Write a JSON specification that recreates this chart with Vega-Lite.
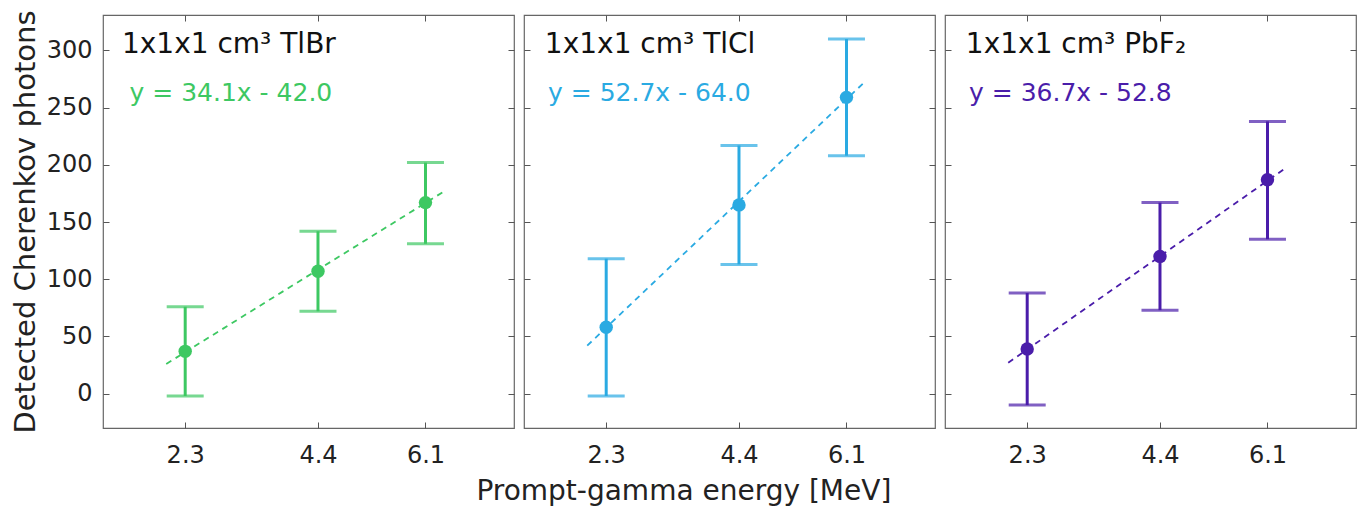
{
  "$schema": "https://vega.github.io/schema/vega-lite/v6.json",
  "autosize": "pad",
  "padding": {"left": 10, "top": 9, "right": 6, "bottom": 5},
  "config": {
    "font": "DejaVu Sans",
    "view": {"stroke": "#666666", "strokeWidth": 1.2},
    "axis": {"grid": false, "domain": false, "tickColor": "#555555", "labelColor": "#222222", "titleColor": "#222222", "labelFont": "DejaVu Sans", "titleFont": "DejaVu Sans", "titleFontWeight": "normal"}
  },
  "spacing": 6,
  "title": {"text": "Prompt-gamma energy [MeV]", "orient": "bottom", "anchor": "middle", "fontSize": 28, "fontWeight": "normal", "font": "DejaVu Sans", "color": "#222222", "offset": 10},
  "datasets": {
    "pts": [
      {"crystal": "TlBr", "energy": 2.3, "photons": 37, "lo": -2, "hi": 76},
      {"crystal": "TlBr", "energy": 4.4, "photons": 107, "lo": 72, "hi": 142},
      {"crystal": "TlBr", "energy": 6.1, "photons": 167, "lo": 131, "hi": 202},
      {"crystal": "TlCl", "energy": 2.3, "photons": 58, "lo": -2, "hi": 118},
      {"crystal": "TlCl", "energy": 4.4, "photons": 165, "lo": 113, "hi": 217},
      {"crystal": "TlCl", "energy": 6.1, "photons": 259, "lo": 208, "hi": 310},
      {"crystal": "PbF2", "energy": 2.3, "photons": 39, "lo": -10, "hi": 88},
      {"crystal": "PbF2", "energy": 4.4, "photons": 120, "lo": 73, "hi": 167},
      {"crystal": "PbF2", "energy": 6.1, "photons": 187, "lo": 135, "hi": 238}
    ],
    "fit": [
      {"crystal": "TlBr", "energy": 2.0, "photons": 26},
      {"crystal": "TlBr", "energy": 6.37, "photons": 176},
      {"crystal": "TlCl", "energy": 2.0, "photons": 42},
      {"crystal": "TlCl", "energy": 6.36, "photons": 271},
      {"crystal": "PbF2", "energy": 2.0, "photons": 27},
      {"crystal": "PbF2", "energy": 6.38, "photons": 197}
    ],
    "labels": [
      {"crystal": "TlBr", "energy": 1.3, "photons": 305, "title": "1x1x1 cm³ TlBr", "eqx": 1.42, "eqy": 263, "eq": "y = 34.1x - 42.0"},
      {"crystal": "TlCl", "energy": 1.33, "photons": 305, "title": "1x1x1 cm³ TlCl", "eqx": 1.38, "eqy": 263, "eq": "y = 52.7x - 64.0"},
      {"crystal": "PbF2", "energy": 1.33, "photons": 305, "title": "1x1x1 cm³ PbF₂", "eqx": 1.38, "eqy": 263, "eq": "y = 36.7x - 52.8"}
    ]
  },
  "hconcat": [
    {
      "width": 411, "height": 413,
      "resolve": {"scale": {"x": "shared", "y": "shared"}, "axis": {"x": "independent", "y": "independent"}},
      "layer": [
        {
          "data": {"name": "fit"},
          "transform": [{"filter": "datum.crystal === 'TlBr'"}],
          "mark": {"type": "line", "color": "#3DC862", "strokeDash": [6, 5], "strokeWidth": 1.8},
          "encoding": {
            "x": {"field": "energy", "type": "quantitative", "scale": {"domain": [1, 7.5], "nice": false, "zero": false},
              "axis": {"orient": "bottom", "values": [2.3, 4.4, 6.1], "format": ".1f", "title": null, "tickSize": -6, "labelPadding": 21, "labelFontSize": 24}},
            "y": {"field": "photons", "type": "quantitative", "scale": {"domain": [-30, 331], "nice": false, "zero": false},
              "axis": {"orient": "left", "values": [0, 50, 100, 150, 200, 250, 300], "title": "Detected Cherenkov photons", "titleFontSize": 29, "titlePadding": 6, "tickSize": -6, "labelPadding": 17, "labelFontSize": 24}}
          }
        },
        {
          "data": {"name": "pts"},
          "transform": [{"filter": "datum.crystal === 'TlBr'"}],
          "mark": {"type": "rule", "color": "#3DC862", "strokeWidth": 3},
          "encoding": {
            "x": {"field": "energy", "type": "quantitative", "axis": {"orient": "top", "values": [2.3, 4.4, 6.1], "labels": false, "title": null, "tickSize": -6}},
            "y": {"field": "lo", "type": "quantitative", "axis": {"orient": "right", "values": [0, 50, 100, 150, 200, 250, 300], "labels": false, "title": null, "tickSize": -6}},
            "y2": {"field": "hi"}
          }
        },
        {
          "data": {"name": "pts"},
          "transform": [{"filter": "datum.crystal === 'TlBr'"}],
          "mark": {"type": "tick", "orient": "horizontal", "color": "#3DC862", "size": 37, "thickness": 3},
          "encoding": {"x": {"field": "energy", "type": "quantitative", "axis": null}, "y": {"field": "lo", "type": "quantitative", "axis": null}}
        },
        {
          "data": {"name": "pts"},
          "transform": [{"filter": "datum.crystal === 'TlBr'"}],
          "mark": {"type": "tick", "orient": "horizontal", "color": "#3DC862", "size": 37, "thickness": 3},
          "encoding": {"x": {"field": "energy", "type": "quantitative", "axis": null}, "y": {"field": "hi", "type": "quantitative", "axis": null}}
        },
        {
          "data": {"name": "pts"},
          "transform": [{"filter": "datum.crystal === 'TlBr'"}],
          "mark": {"type": "circle", "color": "#3DC862", "size": 180, "opacity": 1},
          "encoding": {"x": {"field": "energy", "type": "quantitative", "axis": null}, "y": {"field": "photons", "type": "quantitative", "axis": null}}
        },
        {
          "data": {"name": "labels"},
          "transform": [{"filter": "datum.crystal === 'TlBr'"}],
          "mark": {"type": "text", "align": "left", "baseline": "middle", "fontSize": 28, "color": "#111111"},
          "encoding": {"x": {"field": "energy", "type": "quantitative", "axis": null}, "y": {"field": "photons", "type": "quantitative", "axis": null}, "text": {"field": "title"}}
        },
        {
          "data": {"name": "labels"},
          "transform": [{"filter": "datum.crystal === 'TlBr'"}],
          "mark": {"type": "text", "align": "left", "baseline": "middle", "fontSize": 25, "color": "#3DC862"},
          "encoding": {"x": {"field": "eqx", "type": "quantitative", "axis": null}, "y": {"field": "eqy", "type": "quantitative", "axis": null}, "text": {"field": "eq"}}
        }
      ]
    },
    {
      "width": 411, "height": 413,
      "resolve": {"scale": {"x": "shared", "y": "shared"}, "axis": {"x": "independent", "y": "independent"}},
      "layer": [
        {
          "data": {"name": "fit"},
          "transform": [{"filter": "datum.crystal === 'TlCl'"}],
          "mark": {"type": "line", "color": "#2AAAE2", "strokeDash": [6, 5], "strokeWidth": 1.8},
          "encoding": {
            "x": {"field": "energy", "type": "quantitative", "scale": {"domain": [1, 7.5], "nice": false, "zero": false},
              "axis": {"orient": "bottom", "values": [2.3, 4.4, 6.1], "format": ".1f", "title": null, "tickSize": -6, "labelPadding": 21, "labelFontSize": 24}},
            "y": {"field": "photons", "type": "quantitative", "scale": {"domain": [-30, 331], "nice": false, "zero": false},
              "axis": {"orient": "left", "values": [0, 50, 100, 150, 200, 250, 300], "labels": false, "title": null, "tickSize": -6}}
          }
        },
        {
          "data": {"name": "pts"},
          "transform": [{"filter": "datum.crystal === 'TlCl'"}],
          "mark": {"type": "rule", "color": "#2AAAE2", "strokeWidth": 3},
          "encoding": {
            "x": {"field": "energy", "type": "quantitative", "axis": {"orient": "top", "values": [2.3, 4.4, 6.1], "labels": false, "title": null, "tickSize": -6}},
            "y": {"field": "lo", "type": "quantitative", "axis": {"orient": "right", "values": [0, 50, 100, 150, 200, 250, 300], "labels": false, "title": null, "tickSize": -6}},
            "y2": {"field": "hi"}
          }
        },
        {
          "data": {"name": "pts"},
          "transform": [{"filter": "datum.crystal === 'TlCl'"}],
          "mark": {"type": "tick", "orient": "horizontal", "color": "#2AAAE2", "size": 37, "thickness": 3},
          "encoding": {"x": {"field": "energy", "type": "quantitative", "axis": null}, "y": {"field": "lo", "type": "quantitative", "axis": null}}
        },
        {
          "data": {"name": "pts"},
          "transform": [{"filter": "datum.crystal === 'TlCl'"}],
          "mark": {"type": "tick", "orient": "horizontal", "color": "#2AAAE2", "size": 37, "thickness": 3},
          "encoding": {"x": {"field": "energy", "type": "quantitative", "axis": null}, "y": {"field": "hi", "type": "quantitative", "axis": null}}
        },
        {
          "data": {"name": "pts"},
          "transform": [{"filter": "datum.crystal === 'TlCl'"}],
          "mark": {"type": "circle", "color": "#2AAAE2", "size": 180, "opacity": 1},
          "encoding": {"x": {"field": "energy", "type": "quantitative", "axis": null}, "y": {"field": "photons", "type": "quantitative", "axis": null}}
        },
        {
          "data": {"name": "labels"},
          "transform": [{"filter": "datum.crystal === 'TlCl'"}],
          "mark": {"type": "text", "align": "left", "baseline": "middle", "fontSize": 28, "color": "#111111"},
          "encoding": {"x": {"field": "energy", "type": "quantitative", "axis": null}, "y": {"field": "photons", "type": "quantitative", "axis": null}, "text": {"field": "title"}}
        },
        {
          "data": {"name": "labels"},
          "transform": [{"filter": "datum.crystal === 'TlCl'"}],
          "mark": {"type": "text", "align": "left", "baseline": "middle", "fontSize": 25, "color": "#2AAAE2"},
          "encoding": {"x": {"field": "eqx", "type": "quantitative", "axis": null}, "y": {"field": "eqy", "type": "quantitative", "axis": null}, "text": {"field": "eq"}}
        }
      ]
    },
    {
      "width": 411, "height": 413,
      "resolve": {"scale": {"x": "shared", "y": "shared"}, "axis": {"x": "independent", "y": "independent"}},
      "layer": [
        {
          "data": {"name": "fit"},
          "transform": [{"filter": "datum.crystal === 'PbF2'"}],
          "mark": {"type": "line", "color": "#4A1DAA", "strokeDash": [6, 5], "strokeWidth": 1.8},
          "encoding": {
            "x": {"field": "energy", "type": "quantitative", "scale": {"domain": [1, 7.5], "nice": false, "zero": false},
              "axis": {"orient": "bottom", "values": [2.3, 4.4, 6.1], "format": ".1f", "title": null, "tickSize": -6, "labelPadding": 21, "labelFontSize": 24}},
            "y": {"field": "photons", "type": "quantitative", "scale": {"domain": [-30, 331], "nice": false, "zero": false},
              "axis": {"orient": "left", "values": [0, 50, 100, 150, 200, 250, 300], "labels": false, "title": null, "tickSize": -6}}
          }
        },
        {
          "data": {"name": "pts"},
          "transform": [{"filter": "datum.crystal === 'PbF2'"}],
          "mark": {"type": "rule", "color": "#4A1DAA", "strokeWidth": 3},
          "encoding": {
            "x": {"field": "energy", "type": "quantitative", "axis": {"orient": "top", "values": [2.3, 4.4, 6.1], "labels": false, "title": null, "tickSize": -6}},
            "y": {"field": "lo", "type": "quantitative", "axis": {"orient": "right", "values": [0, 50, 100, 150, 200, 250, 300], "labels": false, "title": null, "tickSize": -6}},
            "y2": {"field": "hi"}
          }
        },
        {
          "data": {"name": "pts"},
          "transform": [{"filter": "datum.crystal === 'PbF2'"}],
          "mark": {"type": "tick", "orient": "horizontal", "color": "#4A1DAA", "size": 37, "thickness": 3},
          "encoding": {"x": {"field": "energy", "type": "quantitative", "axis": null}, "y": {"field": "lo", "type": "quantitative", "axis": null}}
        },
        {
          "data": {"name": "pts"},
          "transform": [{"filter": "datum.crystal === 'PbF2'"}],
          "mark": {"type": "tick", "orient": "horizontal", "color": "#4A1DAA", "size": 37, "thickness": 3},
          "encoding": {"x": {"field": "energy", "type": "quantitative", "axis": null}, "y": {"field": "hi", "type": "quantitative", "axis": null}}
        },
        {
          "data": {"name": "pts"},
          "transform": [{"filter": "datum.crystal === 'PbF2'"}],
          "mark": {"type": "circle", "color": "#4A1DAA", "size": 180, "opacity": 1},
          "encoding": {"x": {"field": "energy", "type": "quantitative", "axis": null}, "y": {"field": "photons", "type": "quantitative", "axis": null}}
        },
        {
          "data": {"name": "labels"},
          "transform": [{"filter": "datum.crystal === 'PbF2'"}],
          "mark": {"type": "text", "align": "left", "baseline": "middle", "fontSize": 28, "color": "#111111"},
          "encoding": {"x": {"field": "energy", "type": "quantitative", "axis": null}, "y": {"field": "photons", "type": "quantitative", "axis": null}, "text": {"field": "title"}}
        },
        {
          "data": {"name": "labels"},
          "transform": [{"filter": "datum.crystal === 'PbF2'"}],
          "mark": {"type": "text", "align": "left", "baseline": "middle", "fontSize": 25, "color": "#4A1DAA"},
          "encoding": {"x": {"field": "eqx", "type": "quantitative", "axis": null}, "y": {"field": "eqy", "type": "quantitative", "axis": null}, "text": {"field": "eq"}}
        }
      ]
    }
  ]
}
